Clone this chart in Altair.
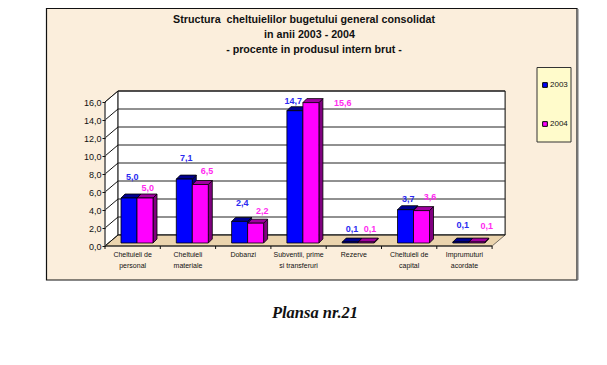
import altair as alt
import pandas as pd

categories = [["Cheltuieli de", "personal"], ["Cheltuieli", "materiale"], ["Dobanzi"],
              ["Subventii, prime", "si transferuri"], ["Rezerve"], ["Cheltuieli de", "capital"],
              ["Imprumuturi", "acordate"]]
values_2003 = [5.0, 7.1, 2.4, 14.7, 0.1, 3.7, 0.1]
values_2004 = [5.0, 6.5, 2.2, 15.6, 0.1, 3.6, 0.1]
y_ticks = [0, 2, 4, 6, 8, 10, 12, 14, 16]
title_lines = ["Structura \u00a0cheltuielilor bugetului general consolidat",
               "in anii 2003 - 2004",
               "- procente in produsul intern brut -"]
caption = "Plansa nr.21"

# layout (pixels)
W, H = 591, 349
STEP, UNIT = 55.3, 9.0
AX_X, AX_Y = 97, 238
BACK_DX, BACK_DY = 13 / STEP, 11 / UNIT
BAR_W, BAR_X0, BAR_BASE = 16 / STEP, 16 / STEP, 3 / UNIT
BAR_DX, BAR_DY = 4 / STEP, 4 / UNIT
title_at = [(296, 11.5), (301.5, 27), (306, 42)]
nudge_2003 = [(3.3, -20.7), (2, -21), (2.7, -18), (-1.6, -9.7), (1.8, -13.4), (2.8, -10.7), (1.9, -17)]
nudge_2004 = [(2.7, -9.7), (6.7, -13.8), (6.7, -12.5), (31.8, 0.1), (3.8, -13.4), (8.5, -13.3), (9.9, -16.4)]

BLUE, MAG = "#0000FF", "#FF00FF"
SIDE = {"2003": "#000080", "2004": "#800080"}
TOP = {"2003": "#000090", "2004": "#A000A0"}
TEXT = {"2003": "#2A2AF0", "2004": "#FF2AF0"}
FONT = "Liberation Sans"
N = len(categories)

xs = alt.Scale(domain=[-AX_X / STEP, (W - AX_X) / STEP], nice=False, zero=False)
ys = alt.Scale(domain=[(AX_Y - H) / UNIT, AX_Y / UNIT], nice=False, zero=False)
y_axis_def = alt.Axis(
    orient="left", offset=-AX_X, values=y_ticks, domain=False, grid=False, tickSize=3, tickColor="#111111",
    labelFont=FONT, labelFontSize=9, labelColor="#111111", labelPadding=1, zindex=1,
    labelExpr="replace(format(datum.value,'.1f'),'.',',')")
X = alt.X("u:Q", scale=xs, axis=None)
Y = alt.Y("v:Q", scale=ys, axis=y_axis_def, title=None)


def df(rows):
    return alt.Data(values=rows)


panel = alt.Chart(df([{"a": 1}])).mark_rect(fill="#FBEEDC", stroke="#111111", strokeWidth=1.2).encode(
    x=alt.value(38.5), x2=alt.value(569), y=alt.value(0.5), y2=alt.value(272))
panel_edge = alt.Chart(df([{"a": 1}])).mark_rule(stroke="#777777", strokeWidth=2).encode(
    x=alt.value(569.5), y=alt.value(1), y2=alt.value(272))

left_wall = alt.Chart(df([
    {"u": 0, "v": 0, "v2": 16},
    {"u": BACK_DX, "v": BACK_DY, "v2": 16 + BACK_DY}])).mark_area(fill="#FFFFFF", stroke="#222222", strokeWidth=0.6).encode(
    x=X, y=Y, y2="v2:Q")
back_wall = alt.Chart(df([{"u": BACK_DX, "u2": N + BACK_DX, "v": BACK_DY, "v2": 16 + BACK_DY}])).mark_rect(
    fill="#FFFFFF", stroke="#000000", strokeWidth=1).encode(x=X, x2="u2:Q", y=Y, y2="v2:Q")
floor = alt.Chart(df([
    {"v": 0, "u": 0, "u2": N},
    {"v": BACK_DY, "u": BACK_DX, "u2": N + BACK_DX}])).mark_area(
    orient="horizontal", fill="#EBD4AE", stroke="#222222", strokeWidth=0.6).encode(y=Y, x=X, x2="u2:Q")

grid = alt.Chart(df([{"u": BACK_DX, "u2": N + BACK_DX, "v": t + BACK_DY} for t in y_ticks])).mark_rule(
    stroke="#222222", strokeWidth=1).encode(x=X, x2="u2:Q", y=Y)
slants = alt.Chart(df([r for t in y_ticks for r in (
    {"u": 0, "v": t, "k": t}, {"u": BACK_DX, "v": t + BACK_DY, "k": t})])).mark_line(
    stroke="#111111", strokeWidth=1).encode(x=X, y=Y, detail="k:N")
front_axis = alt.Chart(df([{"u": 0, "v": 0, "v2": 16}])).mark_rule(stroke="#666666", strokeWidth=1.5).encode(
    x=X, y=Y, y2="v2:Q")
front_base = alt.Chart(df([{"u": 0, "u2": N, "v": 0}])).mark_rule(stroke="#111111", strokeWidth=1).encode(
    x=X, x2="u2:Q", y=Y)
ticks_x = alt.Chart(df([{"u": i, "v": 0, "v2": -3 / UNIT} for i in range(N + 1)])).mark_rule(
    stroke="#111111", strokeWidth=1).encode(x=X, y=Y, y2="v2:Q")


def bar_layers(name, vals, s):
    left = [i + BAR_X0 + s * BAR_W for i in range(N)]
    side, top, front = [], [], []
    for i, v in enumerate(vals):
        t = v + BAR_BASE
        r = left[i] + BAR_W
        side += [{"u": r, "v": BAR_BASE, "v2": t, "k": i},
                 {"u": r + BAR_DX, "v": BAR_BASE + BAR_DY, "v2": t + BAR_DY, "k": i}]
        top += [{"v": t, "u": left[i], "u2": r, "k": i},
                {"v": t + BAR_DY, "u": left[i] + BAR_DX, "u2": r + BAR_DX, "k": i}]
        front.append({"u": left[i], "u2": r, "v": BAR_BASE, "v2": t, "year": name})
    line = dict(stroke="#000000", strokeWidth=0.8)
    return [
        alt.Chart(df(side)).mark_area(fill=SIDE[name], **line).encode(x=X, y=Y, y2="v2:Q", detail="k:N"),
        alt.Chart(df(top)).mark_area(orient="horizontal", fill=TOP[name], **line).encode(
            y=Y, x=X, x2="u2:Q", detail="k:N"),
        alt.Chart(df(front)).mark_rect(**line).encode(
            x=X, x2="u2:Q", y=Y, y2="v2:Q",
            color=alt.Color("year:N", scale=alt.Scale(domain=["2003", "2004"], range=[BLUE, MAG]), legend=alt.Legend(
                title=None, orient="none", legendX=533, legendY=73, padding=0, rowPadding=29,
                symbolType="square", symbolSize=22, symbolStrokeColor="#000000", symbolStrokeWidth=1,
                labelFont=FONT, labelFontSize=8, labelColor="#111111", labelOffset=1)))]


def value_labels(name, vals, s, nudges):
    rows = []
    for i, (v, (dx, dy)) in enumerate(zip(vals, nudges)):
        rows.append({"u": i + BAR_X0 + (s + 0.5) * BAR_W + dx / STEP, "v": v + BAR_BASE - dy / UNIT,
                     "t": f"{v:.1f}".replace(".", ",")})
    return alt.Chart(df(rows)).mark_text(font=FONT, fontSize=9, fontWeight="bold", color=TEXT[name],
                                         baseline="middle").encode(x=X, y=Y, text="t:N")


x_labels = alt.Chart(df([{"u": i + 0.5, "v": -0.5, "t": c} for i, c in enumerate(categories)])).mark_text(
    font=FONT, fontSize=7, color="#111111", baseline="top", lineHeight=11).encode(x=X, y=Y, text="t:N")

legend_box = alt.Chart(df([{"a": 1}])).mark_rect(fill="#FFFBCB", stroke="#333333", strokeWidth=1).encode(
    x=alt.value(529), x2=alt.value(563), y=alt.value(59.5), y2=alt.value(134))

cap = alt.Chart(df([{"t": caption}])).mark_text(
    font="Liberation Serif", fontSize=16.5, fontStyle="italic", fontWeight="bold", color="#111111").encode(
    x=alt.value(307), y=alt.value(305), text="t:N")

title_marks = [
    alt.Chart(df([{"t": line}])).mark_text(
        font=FONT, fontSize=10.7, fontWeight="bold", color="#111111", baseline="middle").encode(
        x=alt.value(px), y=alt.value(py), text="t:N")
    for line, (px, py) in zip(title_lines, title_at)]

layers = [panel, panel_edge, legend_box, left_wall, back_wall, floor, grid, slants, front_axis, front_base, ticks_x]
layers += bar_layers("2003", values_2003, 0) + bar_layers("2004", values_2004, 1)
layers += [value_labels("2003", values_2003, 0, nudge_2003), value_labels("2004", values_2004, 1, nudge_2004),
           x_labels, cap] + title_marks

chart = alt.layer(*layers).properties(
    width=W, height=H, padding=0, autosize=alt.AutoSizeParams(type="none"),
).configure_view(stroke=None)

chart.save("out.html", embed_options={"renderer": "svg", "actions": False})
